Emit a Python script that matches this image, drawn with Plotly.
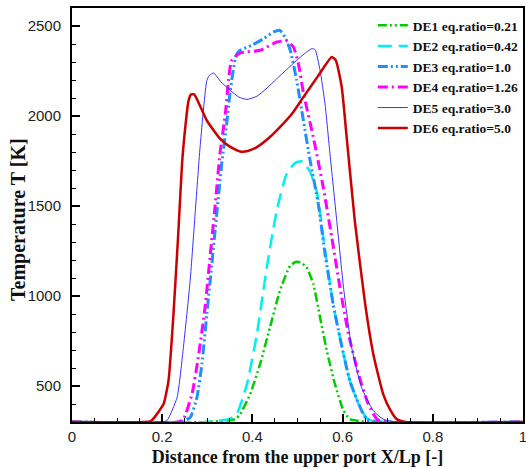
import plotly.graph_objects as go

# ---- data ----
de1_x = [0, 0.30, 0.362, 0.373, 0.395, 0.417, 0.439, 0.461, 0.484, 0.497, 0.506, 0.52, 0.535, 0.55, 0.565, 0.583, 0.602, 0.616, 0.66, 1]
de1_y = [300, 300, 316, 344, 455, 622, 826, 1030, 1169, 1190, 1187, 1160, 1067, 882, 696, 511, 363, 316, 300, 300]

de2_x = [0, 0.30, 0.347, 0.365, 0.388, 0.41, 0.432, 0.454, 0.476, 0.495, 0.509, 0.52, 0.528, 0.543, 0.557, 0.579, 0.594, 0.616, 0.642, 0.66, 0.70, 1]
de2_y = [300, 300, 316, 344, 511, 789, 1160, 1475, 1679, 1740, 1748, 1720, 1690, 1577, 1326, 956, 770, 529, 363, 310, 300, 300]

de3_x = [0, 0.24, 0.262, 0.277, 0.288, 0.299, 0.31, 0.321, 0.332, 0.343, 0.351, 0.364, 0.373, 0.40, 0.425, 0.447, 0.461, 0.472, 0.484, 0.498, 0.513, 0.528, 0.546, 0.561, 0.579, 0.594, 0.616, 0.639, 0.653, 0.68, 1]
de3_y = [300, 300, 325, 437, 622, 900, 1178, 1457, 1735, 1957, 2142, 2337, 2365, 2395, 2430, 2467, 2476, 2439, 2365, 2200, 1976, 1752, 1512, 1234, 956, 770, 529, 381, 316, 300, 300]

de4_x = [0, 0.235, 0.247, 0.266, 0.28, 0.295, 0.306, 0.317, 0.328, 0.34, 0.347, 0.354, 0.373, 0.417, 0.454, 0.476, 0.491, 0.502, 0.513, 0.535, 0.557, 0.576, 0.594, 0.613, 0.635, 0.657, 0.676, 0.70, 1]
de4_y = [300, 300, 316, 455, 659, 937, 1215, 1493, 1790, 2013, 2198, 2309, 2350, 2365, 2411, 2417, 2383, 2291, 2130, 1883, 1605, 1326, 1048, 789, 567, 400, 316, 300, 300]

de5_x = [0, 0.19, 0.21, 0.233, 0.247, 0.262, 0.273, 0.284, 0.299, 0.305, 0.314, 0.33, 0.351, 0.37, 0.388, 0.41, 0.43, 0.454, 0.476, 0.498, 0.52, 0.532, 0.539, 0.55, 0.561, 0.572, 0.587, 0.602, 0.62, 0.642, 0.668, 0.69, 0.72, 1]
de5_y = [300, 300, 307, 437, 715, 1086, 1457, 1827, 2198, 2226, 2239, 2190, 2142, 2105, 2092, 2110, 2150, 2207, 2258, 2309, 2355, 2374, 2369, 2254, 2068, 1790, 1419, 1048, 715, 492, 363, 316, 300, 300]

de6_x = [0, 0.16, 0.175, 0.181, 0.19, 0.203, 0.214, 0.225, 0.236, 0.244, 0.252, 0.258, 0.264, 0.271, 0.285, 0.299, 0.328, 0.35, 0.373, 0.39, 0.41, 0.439, 0.461, 0.49, 0.513, 0.545, 0.576, 0.585, 0.598, 0.609, 0.627, 0.65, 0.668, 0.69, 0.705, 0.72, 0.74, 1]
de6_y = [300, 300, 305, 320, 350, 400, 529, 900, 1364, 1735, 1957, 2080, 2120, 2120, 2050, 1975, 1874, 1830, 1803, 1806, 1827, 1883, 1938, 2020, 2105, 2220, 2328, 2309, 2161, 1883, 1419, 956, 678, 455, 370, 316, 300, 300]

names = ["DE1 eq.ratio=0.21", "DE2 eq.ratio=0.42", "DE3 eq.ratio=1.0",
         "DE4 eq.ratio=1.26", "DE5 eq.ratio=3.0", "DE6 eq.ratio=5.0"]

x_ticks = [0, 0.2, 0.4, 0.6, 0.8, 1]
x_tick_labels = ["0", "0.2", "0.4", "0.6", "0.8", "1"]
y_ticks = [500, 1000, 1500, 2000, 2500]

# ---- styles ----
styles = [
    dict(color="#00CC00", width=2.5, dash="9px,3px,2px,3px,2px,3px"),
    dict(color="#00F0F0", width=2.5, dash="14px,7px"),
    dict(color="#1E90FF", width=3, dash="10px,3px,2px,3px,2px,3px"),
    dict(color="#FF00FF", width=3, dash="10px,4px,2px,4px"),
    dict(color="#3333FF", width=1),
    dict(color="#CC0000", width=2.5),
]

series = [(de1_x, de1_y), (de2_x, de2_y), (de3_x, de3_y),
          (de4_x, de4_y), (de5_x, de5_y), (de6_x, de6_y)]

fig = go.Figure()
for (xs, ys), nm, st in zip(series, names, styles):
    fig.add_trace(go.Scatter(x=xs, y=ys, mode="lines", name="<b>" + nm + "</b>",
                             line=dict(shape="spline", smoothing=0.5, **st)))

axis_common = dict(
    showline=True, mirror=True, linecolor="black", linewidth=2,
    ticks="inside", ticklen=8, tickwidth=1.5, tickcolor="black",
    showgrid=False, zeroline=False,
    tickfont=dict(family="Liberation Sans, Arial", size=15, color="#222"),
)

fig.update_xaxes(range=[0, 1], tickvals=x_ticks, ticktext=x_tick_labels,
                 ticklabeloverflow="allow",
                 minor=dict(ticks="inside", ticklen=4, dtick=0.05, tickcolor="black", tickwidth=1),
                 title=dict(text="<b>Distance from the upper port X/Lp [-]</b>",
                            font=dict(family="Liberation Serif, Times New Roman", size=18, color="#111"),
                            standoff=6),
                 **axis_common)
fig.update_yaxes(range=[300, 2600], tickvals=y_ticks,
                 minor=dict(ticks="inside", ticklen=4, dtick=100, tickcolor="black", tickwidth=1),
                 ticklabelstandoff=6,
                 **axis_common)

fig.update_layout(
    width=526, height=469,
    margin=dict(l=72, r=3, t=8, b=47, autoexpand=False),
    paper_bgcolor="white", plot_bgcolor="white",
    legend=dict(x=0.667, y=0.995, xanchor="left", yanchor="top",
                bgcolor="rgba(0,0,0,0)",
                font=dict(family="Liberation Serif, Times New Roman", size=13.5, color="#111"),
                itemwidth=30),
    annotations=[dict(text="<b>Temperature T [K]</b>", textangle=-90,
                      xref="paper", yref="paper", x=-0.1175, y=0.488,
                      xanchor="center", yanchor="middle", showarrow=False,
                      font=dict(family="Liberation Serif, Times New Roman", size=20, color="#111"))],
)

fig.write_html("out.html")
